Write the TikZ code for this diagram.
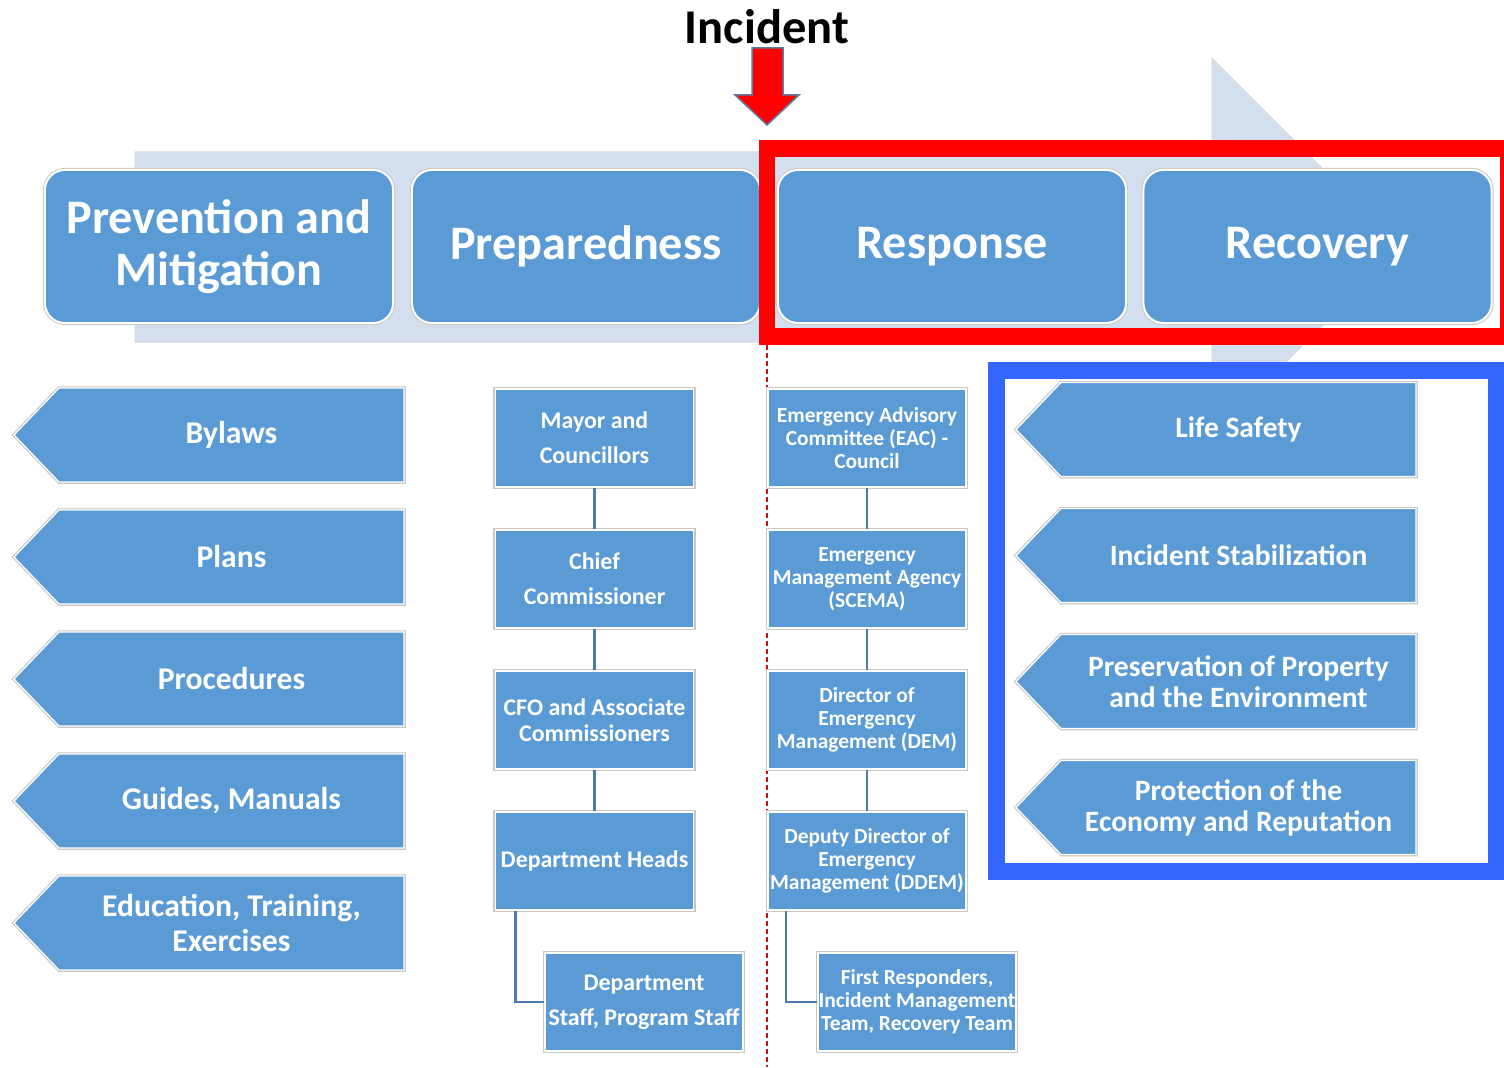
\documentclass[tikz,border=0pt]{standalone}
\usepackage{fontspec}
\setmainfont{Carlito}
\usetikzlibrary{calc}
\definecolor{boxblue}{HTML}{5B9BD5}
\definecolor{chev}{HTML}{D3DEEF}
\definecolor{conn}{HTML}{4A7CB0}
\definecolor{redbox}{HTML}{FF0000}
\definecolor{bluebox}{HTML}{3366FF}
\definecolor{arrowedge}{HTML}{5B7FA6}
\definecolor{dashred}{HTML}{D01010}
\definecolor{edgegray}{HTML}{C8C8C8}
\newcommand\tagarrow[6]{%
  \path[tagshape] (#2,#4) -- (#2+45,#4-47) -- (#3,#4-47) -- (#3,#4+47) -- (#2+45,#4+47) -- cycle;
  \node[taglabel,#6] (#1) at ({(#2+45+#3)/2},#4) {#5};}
\begin{document}
\begin{tikzpicture}[x=0.01cm,y=-0.01cm,
  phase/.style={rectangle, rounded corners=0.2cm, fill=boxblue, draw=white, line width=0.02cm,
    preaction={draw=edgegray, line width=0.04cm}, minimum width=3.48cm, minimum height=1.53cm,
    inner sep=0pt, text=white, align=center, font=\fontsize{13.7}{14.8}\selectfont\bfseries},
  orgbox/.style={rectangle, fill=boxblue, draw=white, line width=0.015cm,
    preaction={draw=edgegray, line width=0.045cm}, minimum width=1.98cm, minimum height=0.98cm,
    inner sep=0pt, text=white, align=center},
  midfont/.style={font=\fontsize{6.8}{10}\selectfont\bfseries},
  cfofont/.style={font=\fontsize{6.8}{7.4}\selectfont\bfseries},
  rightfont/.style={font=\fontsize{6.1}{6.5}\selectfont\bfseries},
  tagshape/.style={fill=boxblue, draw=white, line width=0.012cm, preaction={draw=edgegray, line width=0.035cm}},
  taglabel/.style={text=white, align=center, inner sep=0pt},
  lefttag/.style={font=\fontsize{9}{10}\selectfont\bfseries},
  righttag/.style={font=\fontsize{8.4}{8.8}\selectfont\bfseries},
  conline/.style={draw=conn, line width=0.025cm},
]
\useasboundingbox (0,0) rectangle (1504,1067);
\clip (0,0) rectangle (1504,1067);
\fill[white] (0,0) rectangle (1504,1067);

% background chevron
\path[fill=chev, draw=edgegray!70, line width=0.01cm] (135,152) -- (1212,152) -- (1212,58) -- (1401,247) -- (1212,436) -- (1212,342) -- (135,342) -- cycle;

% phase boxes
\node[phase] (prev) at (219,246.5) {Prevention and\\Mitigation};
\node[phase] (prep) at (586,246.5) {Preparedness};
\node[phase] (resp) at (952,246.5) {Response};
\node[phase] (reco) at (1317.5,246.5) {Recovery};

% red frame
\draw[redbox, line width=0.165cm] (767,148.5) rectangle (1508,336.5);

% incident
\node[font=\fontsize{13.8}{14}\selectfont\bfseries, inner sep=0pt] (inc) at (767,27) {Incident};
\path[fill=redbox, draw=arrowedge, line width=0.015cm, line join=miter] (752,48) -- (783,48) -- (783,95) -- (799,95) -- (767,125) -- (735,95) -- (752,95) -- cycle;

% dashed divider
\coordinate (divtop) at (767,345);
\coordinate (divbot) at (767,1067);
\draw[dashred, line width=0.013cm, dash pattern=on 0.05cm off 0.03cm] (divtop) -- (divbot);

% left tags
\tagarrow{bylaws}{14}{404}{435}{Bylaws}{lefttag}
\tagarrow{plans}{14}{404}{557}{Plans}{lefttag}
\tagarrow{proc}{14}{404}{679}{Procedures}{lefttag}
\tagarrow{guides}{14}{404}{801}{Guides, Manuals}{lefttag}
\tagarrow{edu}{14}{404}{923}{Education, Training,\\Exercises}{lefttag}

% preparedness org chart
\node[orgbox, midfont] (mayor) at (594.5,438) {Mayor and\\Councillors};
\node[orgbox, midfont] (chief) at (594.5,579) {Chief\\Commissioner};
\node[orgbox, cfofont] (cfo) at (594.5,720) {CFO and Associate\\Commissioners};
\node[orgbox, midfont] (dh) at (594.5,861) {Department Heads};
\node[orgbox, midfont] (ds) at (644,1002) {Department\\Staff, Program Staff};
\draw[conline] (mayor) -- (chief);
\draw[conline] (chief) -- (cfo);
\draw[conline] (cfo) -- (dh);
\draw[conline] ([xshift=0.21cm]dh.south west) |- (ds.west);

% response org chart
\node[orgbox, rightfont] (eac) at (867,438) {Emergency Advisory\\Committee (EAC) -\\Council};
\node[orgbox, rightfont] (scema) at (867,579) {Emergency\\Management Agency\\(SCEMA)};
\node[orgbox, rightfont] (dem) at (867,720) {Director of\\Emergency\\Management (DEM)};
\node[orgbox, rightfont] (ddem) at (867,861) {Deputy Director of\\Emergency\\Management (DDEM)};
\node[orgbox, rightfont] (fr) at (917,1002) {First Responders,\\Incident Management\\Team, Recovery Team};
\draw[conline] (eac) -- (scema);
\draw[conline] (scema) -- (dem);
\draw[conline] (dem) -- (ddem);
\draw[conline] ([xshift=0.19cm]ddem.south west) |- (fr.west);

% blue frame
\draw[bluebox, line width=0.17cm, fill=white] (996.5,370.5) rectangle (1496.5,871.5);

% right tags
\tagarrow{life}{1016}{1416}{429.5}{Life Safety}{righttag}
\tagarrow{stab}{1016}{1416}{555.5}{Incident Stabilization}{righttag}
\tagarrow{prop}{1016}{1416}{681.5}{Preservation of Property\\and the Environment}{righttag}
\tagarrow{econ}{1016}{1416}{807.5}{Protection of the\\Economy and Reputation}{righttag}
\end{tikzpicture}
\end{document}
